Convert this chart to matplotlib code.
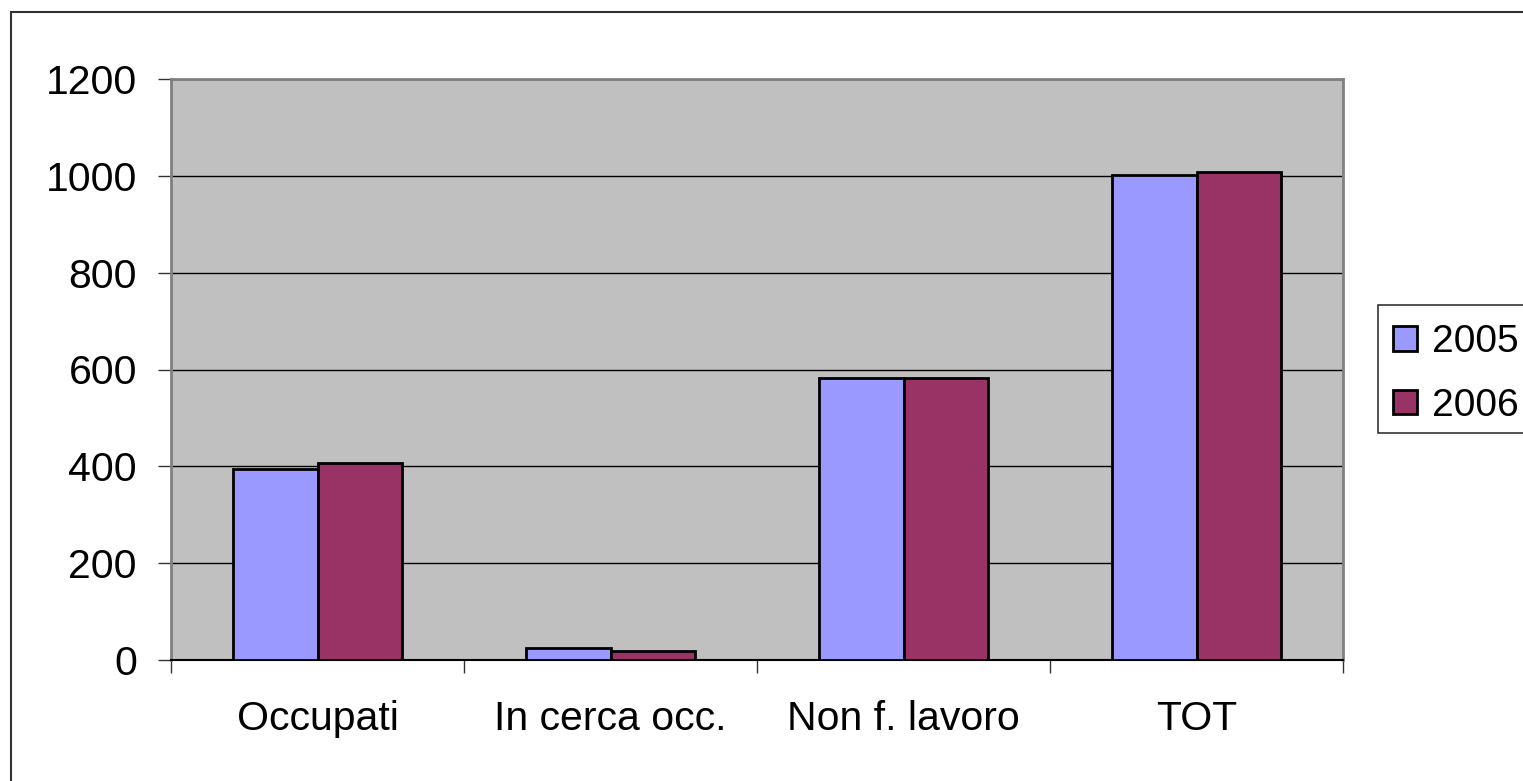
import matplotlib.pyplot as plt
from matplotlib.patches import Rectangle
import numpy as np

categories = ['Occupati', 'In cerca occ.', 'Non f. lavoro', 'TOT']
years      = ['2005', '2006']
vals_2005  = [395, 25, 582, 1002]
vals_2006  = [407, 19, 582, 1008]
colors     = ['#9999FF', '#993366']

plt.rcParams['font.family'] = ['Liberation Sans', 'DejaVu Sans']

W, H = 1523, 781
fig = plt.figure( figsize = (W/100, H/100), dpi = 100 )
ax = fig.add_axes( [171/W, 1 - 660/H, (1343-171)/W, (660-79)/H] )
ax.set_facecolor( '#C0C0C0' )

x = np.arange( len(categories) )
bw = 0.29
b1 = ax.bar( x - bw/2, vals_2005, bw, color = colors[0], edgecolor = 'black', linewidth = 2, label = years[0], zorder = 3 )
b2 = ax.bar( x + bw/2, vals_2006, bw, color = colors[1], edgecolor = 'black', linewidth = 2, label = years[1], zorder = 3 )

ax.set_xlim( -0.5, len(categories) - 0.5 )
ax.set_ylim( 0, 1200 )
ax.set_yticks( range(0, 1201, 200) )
ax.yaxis.grid( True, color = 'black', linewidth = 1 )
ax.set_axisbelow( True )

# category labels at centres, tick marks at boundaries
ax.set_xticks( x )
ax.set_xticklabels( categories )
ax.set_xticks( np.arange(-0.5, len(categories), 1.0), minor = True )
ax.tick_params( axis = 'x', which = 'major', length = 0, pad = 29, labelsize = 29.5 )
ax.tick_params( axis = 'x', which = 'minor', length = 9.5, width = 1, direction = 'out', color = '#333333' )
ax.tick_params( axis = 'y', length = 9.5, width = 1, direction = 'out', pad = 15, labelsize = 29.5, color = '#333333' )

for side in ['top', 'right', 'left']:
    ax.spines[side].set_color( '#808080' )
    ax.spines[side].set_linewidth( 2 )
ax.spines['bottom'].set_color( 'black' )
ax.spines['bottom'].set_linewidth( 1.5 )

# legend box (clipped at the right edge like the original)
fig.patches.append( Rectangle( (1378/W, 1 - 433/H), 300/W, 128/H, transform = fig.transFigure,
                               facecolor = 'white', edgecolor = '#333333', linewidth = 1.2 ) )
leg = fig.legend( handles = [b1, b2], labels = years, loc = 'upper left',
                  bbox_to_anchor = (1374/W, 1 - 305/H), frameon = False, fontsize = 28,
                  handlelength = 0.6, handleheight = 0.6, handletextpad = 0.4, labelspacing = 0.7,
                  borderpad = 0 )

# outer chart frame
fig.patches.append( Rectangle( (11/W, -0.1), 1.2, 1.1 - 12/H, transform = fig.transFigure,
                               facecolor = 'none', edgecolor = '#333333', linewidth = 1.5 ) )

fig.savefig( 'out.png', dpi = 100, facecolor = 'white' )
